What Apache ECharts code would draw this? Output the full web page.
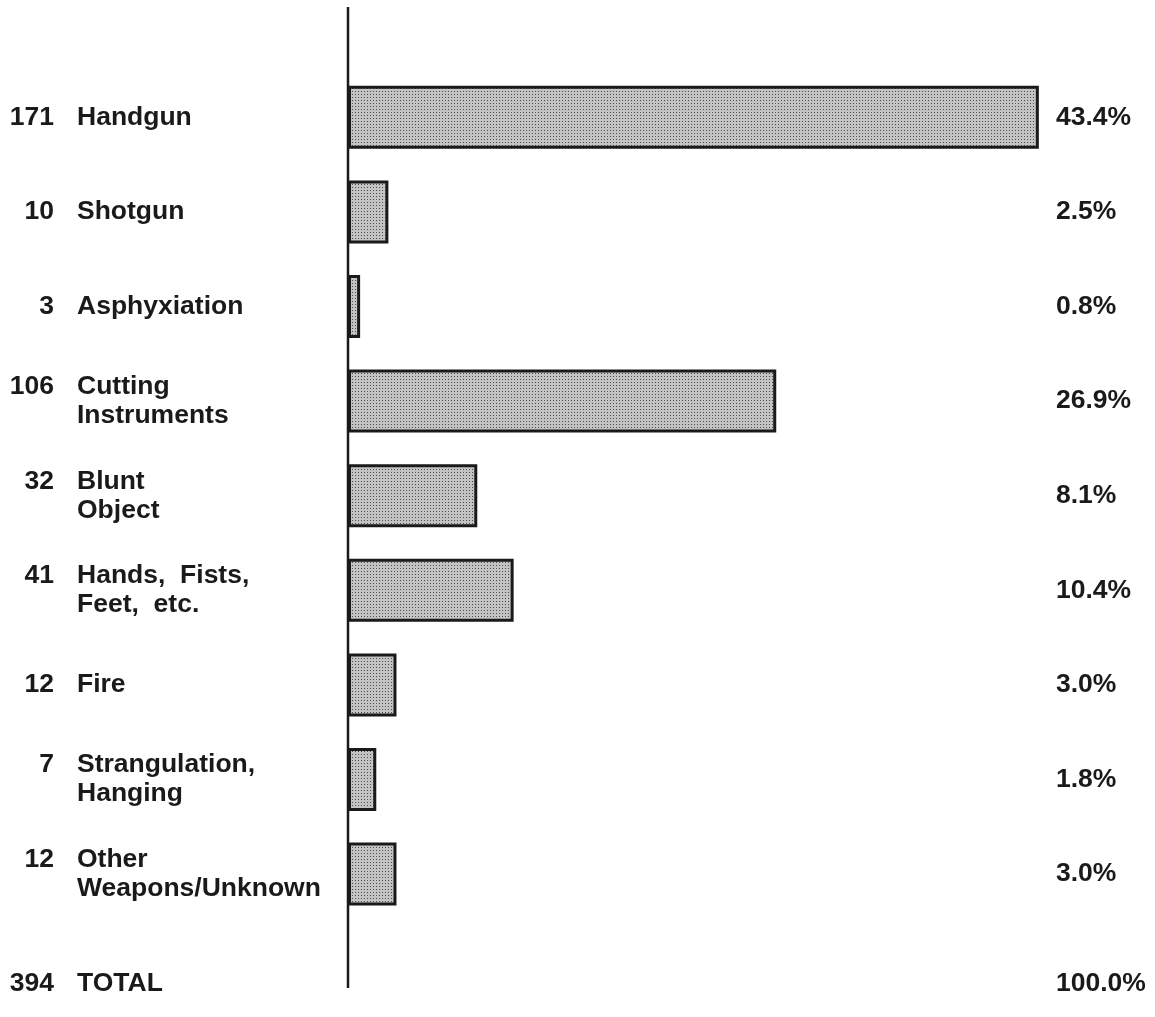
<!DOCTYPE html>
<html>
<head>
<meta charset="utf-8">
<script src="https://cdn.jsdelivr.net/npm/echarts@6/dist/echarts.min.js"></script>
<style>
  html, body { margin: 0; padding: 0; background: #fff; }
  #main { width: 1155px; height: 1017px; }
</style>
</head>
<body>
<div id="main"></div>
<script>
// rows top to bottom; last row is the total, it has no bar
const categories = ['Handgun', 'Shotgun', 'Asphyxiation', 'Cutting\nInstruments', 'Blunt\nObject',
  'Hands,  Fists,\nFeet,  etc.', 'Fire', 'Strangulation,\nHanging', 'Other\nWeapons/Unknown', 'TOTAL']
const counts = [171, 10, 3, 106, 32, 41, 12, 7, 12, 394]
const percents = ['43.4%', '2.5%', '0.8%', '26.9%', '8.1%', '10.4%', '3.0%', '1.8%', '3.0%', '100.0%']
const barValues = [171, 10, 3, 106, 32, 41, 12, 7, 12, null]

const font = "'Liberation Sans', Arial, Helvetica, sans-serif"
const fontSize = 26.5
const ink = '#1a1a1a'

// stipple fill like the printed halftone
const tile = document.createElement('canvas')
tile.width = 3
tile.height = 3
const tc = tile.getContext('2d')
tc.fillStyle = '#c3c3c3'
tc.fillRect(0, 0, 3, 3)
tc.fillStyle = '#4e4e4e'
tc.fillRect(1, 1, 1, 1)

// measure number widths so the counts line up on their right edge
const mctx = document.createElement('canvas').getContext('2d')
mctx.font = 'bold ' + fontSize + 'px ' + font
const numCol = 46   // width of the count column
const gap = 23      // space between count and name

const txt = { fontFamily: font, fontWeight: 'bold', fontSize: fontSize, color: ink, lineHeight: 29, align: 'left' }
const totalShift = 30  // total row sits a bit lower than the regular spacing

const leftRich = {
  t: Object.assign({}, txt, { padding: [0, 0, 0, gap] }),
  t2: Object.assign({}, txt, { padding: [0, 0, 0, numCol + gap] }),
  tT: Object.assign({}, txt, { padding: [totalShift, 0, 0, gap] })
}
counts.forEach((c, i) => {
  const w = mctx.measureText(String(c)).width
  const top = i === counts.length - 1 ? totalShift : 0
  leftRich['n' + i] = Object.assign({}, txt, { padding: [top, 0, 0, Math.max(0, numCol - w)] })
})

const chart = echarts.init(document.getElementById('main'))
const option = {
  animation: false,
  backgroundColor: '#fff',
  grid: { left: 348, top: 70, height: 946, right: 100 },
  xAxis: {
    type: 'value', min: 0, max: 175, show: false
  },
  yAxis: [
    {
      type: 'category',
      inverse: true,
      data: categories,
      axisLine: { show: false },
      axisTick: { show: false },
      axisLabel: {
        interval: 0,
        align: 'left',
        margin: 340,
        formatter(value, idx) {
          const lines = value.split('\n')
          const last = idx === categories.length - 1
          let s = '{n' + idx + '|' + counts[idx] + '}{' + (last ? 'tT' : 't') + '|' + lines[0] + '}'
          for (let i = 1; i < lines.length; i++) s += '\n{t2|' + lines[i] + '}'
          return s
        },
        rich: leftRich
      }
    },
    {
      type: 'category',
      inverse: true,
      position: 'right',
      data: percents,
      axisLine: { show: false },
      axisTick: { show: false },
      axisLabel: {
        interval: 0,
        align: 'left',
        margin: 1,
        formatter(value, idx) {
          return idx === percents.length - 1 ? '{pT|' + value + '}' : '{p|' + value + '}'
        },
        rich: {
          p: Object.assign({}, txt),
          pT: Object.assign({}, txt, { padding: [totalShift, 0, 0, 0] })
        }
      }
    }
  ],
  series: [
    {
      type: 'bar',
      yAxisIndex: 0,
      data: barValues,
      barWidth: 63,
      itemStyle: {
        color: { image: tile, repeat: 'repeat' },
        borderColor: ink,
        borderWidth: 3
      }
    }
  ]
}
chart.setOption(option)

// the vertical base line runs past the bars, from the top of the page to the total row
const x0 = chart.convertToPixel({ xAxisIndex: 0 }, 0)
chart.setOption({
  graphic: [{
    type: 'line',
    shape: { x1: x0, y1: 7, x2: x0, y2: 988 },
    style: { stroke: ink, lineWidth: 2.5 },
    z: 10
  }]
})
</script>
</body>
</html>
